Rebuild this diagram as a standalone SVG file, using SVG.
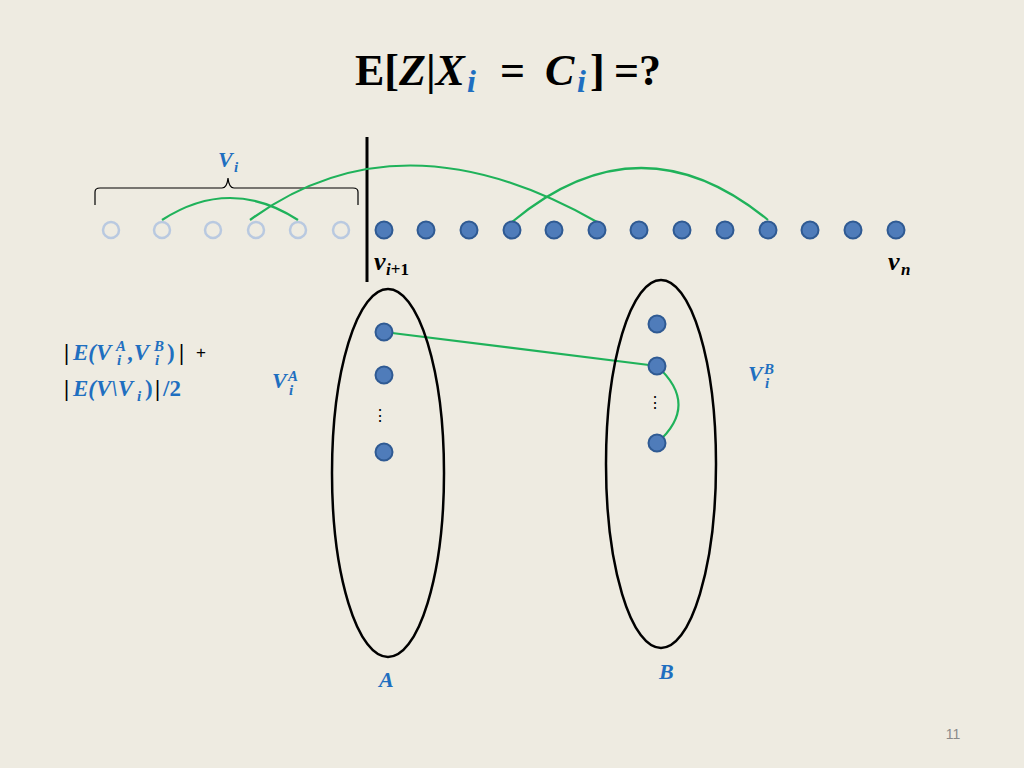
<svg xmlns="http://www.w3.org/2000/svg" width="1024" height="768" viewBox="0 0 1024 768">
<style>
.h{fill:none;stroke:#b9c9e0;stroke-width:2.5}
.f{fill:#4f7cba;stroke:#2f5a93;stroke-width:2}
.g{fill:none;stroke:#1fb25a;stroke-width:2.2}
.t{font-family:"Liberation Serif",serif;font-weight:bold;font-style:italic}
.n{font-family:"Liberation Serif",serif;font-weight:bold}
.b{fill:#1f6fc0}
.e{fill:none;stroke:#000;stroke-width:2.5}
</style>
<rect width="1024" height="768" fill="#eeebe1"/>
<g id="title" font-size="44">
<text x="355" y="85" class="n">E[<tspan font-style="italic">Z</tspan>|<tspan font-style="italic">X</tspan></text>
<text x="467" y="92" class="t b" font-size="32">i</text>
<text x="500" y="85" class="n">=</text>
<text x="545" y="85" class="t">C</text>
<text x="577" y="92" class="t b" font-size="32">i</text>
<text x="590" y="85" class="n" font-weight="normal">]</text>
<text x="614" y="85" class="n" font-weight="normal">=?</text>
</g>
<g id="brace"><path d="M95,205 V192 Q95,188 100,188 H222 Q227,188 228,178 Q229,188 234,188 H353 Q358,188 358,192 V205" fill="none" stroke="#000" stroke-width="1.2"/>
<text x="218" y="167" class="t b" font-size="22">V</text><text x="234" y="172" class="t b" font-size="15">i</text></g>
<line x1="367" y1="137" x2="367" y2="282" stroke="#000" stroke-width="3"/>
<g id="connectors">
<path class="g" d="M162,220 Q230,176 298,220"/>
<path class="g" d="M250,220 Q400,110 597,222"/>
<path class="g" d="M512,222 Q640,115 768,220"/>
<path class="g" d="M384,332 L657,366"/>
<path class="g" d="M657,366 Q700,405 657,443"/>
</g>
<g id="row">
<circle class="h" cx="111" cy="230" r="8"/><circle class="h" cx="162" cy="230" r="8"/><circle class="h" cx="213" cy="230" r="8"/><circle class="h" cx="256" cy="230" r="8"/><circle class="h" cx="298" cy="230" r="8"/><circle class="h" cx="341" cy="230" r="8"/>
<circle class="f" cx="384" cy="230" r="8.5"/><circle class="f" cx="426" cy="230" r="8.5"/><circle class="f" cx="469" cy="230" r="8.5"/><circle class="f" cx="512" cy="230" r="8.5"/><circle class="f" cx="554" cy="230" r="8.5"/><circle class="f" cx="597" cy="230" r="8.5"/><circle class="f" cx="639" cy="230" r="8.5"/><circle class="f" cx="682" cy="230" r="8.5"/><circle class="f" cx="725" cy="230" r="8.5"/><circle class="f" cx="768" cy="230" r="8.5"/><circle class="f" cx="810" cy="230" r="8.5"/><circle class="f" cx="853" cy="230" r="8.5"/><circle class="f" cx="896" cy="230" r="8.5"/>
<text x="374" y="270" class="t" font-size="26">v</text><text x="386" y="275" class="n" font-size="17"><tspan font-style="italic">i</tspan>+1</text>
<text x="888" y="270" class="t" font-size="26">v</text><text x="901" y="275" class="t" font-size="17">n</text>
</g>
<g id="A"><ellipse class="e" cx="388" cy="473" rx="56" ry="184"/>
<circle class="f" cx="384" cy="332" r="8.5"/><circle class="f" cx="384" cy="375" r="8.5"/><circle class="f" cx="384" cy="452" r="8.5"/>
<text x="380" y="421" font-family="Liberation Sans,sans-serif" font-size="16" text-anchor="middle">⋮</text>
<text x="379" y="687" class="t b" font-size="22">A</text></g>
<g id="B"><ellipse class="e" cx="661" cy="464" rx="55" ry="184"/>
<circle class="f" cx="657" cy="324" r="8.5"/><circle class="f" cx="657" cy="366" r="8.5"/><circle class="f" cx="657" cy="443" r="8.5"/>
<text x="655" y="408" font-family="Liberation Sans,sans-serif" font-size="16" text-anchor="middle">⋮</text>
<text x="659" y="679" class="t b" font-size="22">B</text></g>
<g id="labels" class="b">
<text x="272" y="388" class="t" font-size="22">V</text><text x="288" y="381" class="t" font-size="15">A</text><text x="289" y="395" class="t" font-size="15">i</text>
<text x="748" y="381" class="t" font-size="22">V</text><text x="764" y="374" class="t" font-size="15">B</text><text x="765" y="388" class="t" font-size="15">i</text>
</g>
<g id="formula" font-size="23">
<text x="64" y="360" class="n">|</text>
<text x="73" y="360" class="t b">E(V</text>
<text x="116" y="351" class="t b" font-size="15">A</text><text x="117" y="365" class="t b" font-size="15">i</text>
<text x="128" y="360" class="t b">,V</text>
<text x="154" y="351" class="t b" font-size="15">B</text><text x="155" y="365" class="t b" font-size="15">i</text>
<text x="167" y="360" class="n b" font-weight="normal">)</text>
<text x="179" y="360" class="n">|</text>
<text x="196" y="358" font-family="Liberation Sans,sans-serif" font-size="17">+</text>
<text x="64" y="396" class="n">|</text>
<text x="73" y="396" class="t b">E(V\V</text>
<text x="137" y="401" class="t b" font-size="15">i</text>
<text x="145" y="396" class="n b" font-weight="normal">)</text>
<text x="155" y="396" class="n">|</text>
<text x="163" y="396" class="n b">/2</text>
</g>
<text x="953" y="739" text-anchor="middle" font-family="Liberation Sans,sans-serif" font-size="14" fill="#8a8a8a">11</text>
</svg>
